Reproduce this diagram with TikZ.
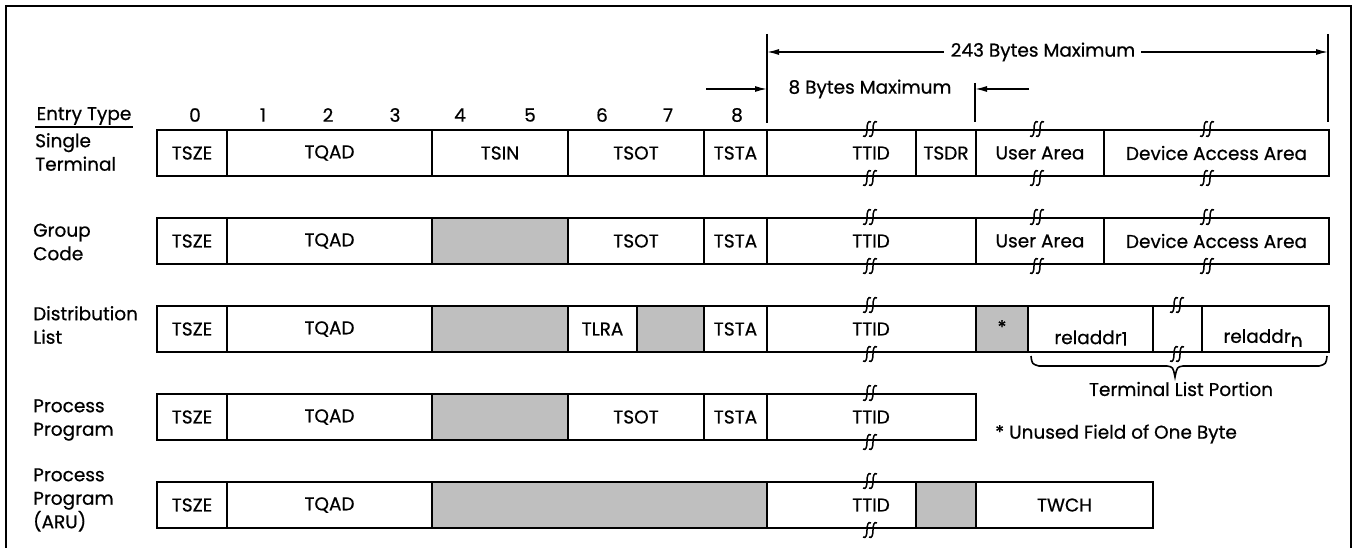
\documentclass[tikz,border=0pt]{standalone}
\usepackage{fontspec}
\setmainfont{Poppins}[FakeBold=0.6]
\usetikzlibrary{arrows.meta}
\newcommand\fs{\fontsize{18.5}{23.5}\selectfont}
\newcommand\fld[6][]{%
  \pgfmathsetmacro\myW{#4-#3}%
  \pgfmathsetmacro\myX{(#3+#4)/2}%
  \pgfmathsetmacro\myY{#5+23}%
  \node[fld,#1,minimum width=\myW pt] (#2) at (\myX,\myY) {#6};}
\begin{document}
\begin{tikzpicture}[x=1pt,y=-1pt,
  fld/.style={draw, line width=1.8pt, minimum height=46pt, inner sep=0pt, font=\fs},
  shd/.style={fill=black!25},
  lbl/.style={font=\fs, inner sep=0pt},
  dim/.style={line width=1.4pt},
  arr/.style={dim, -{Latex[length=12pt,width=6pt]}},
  brk/.pic={\foreach \d in {-3,3}{\draw[line width=1.5pt,shift={(\d,0)}] (4,-7) .. controls (1,-9) and (0,-4.5) .. (0,0) .. controls (0,4.5) and (-1,9) .. (-4,7);}}
]
\useasboundingbox (0,0) rectangle (1357,548);
% frame
\draw[line width=2.6pt] (6,560) -- (6,6) -- (1351,6) -- (1351,560);

% header
\node[lbl] (et) at (84,116) {Entry Type};
\coordinate (ul1) at (35,127); \coordinate (ul2) at (133,127);
\draw[line width=1.3pt] (ul1) -- (ul2);
\foreach \n/\x in {0/195,1/263,2/328,3/395,4/460,5/530,6/602,7/668,8/737}
  \node[lbl] (num\n) at (\x,115) {\n};

% dimension lines
\coordinate (v1t) at (767,34); \coordinate (v1b) at (767,123);
\coordinate (v2t) at (1328,34); \coordinate (v2b) at (1328,122);
\coordinate (v3t) at (975,83); \coordinate (v3b) at (975,122);
\draw[dim] (v1t) -- (v1b);
\draw[dim] (v2t) -- (v2b);
\draw[dim] (v3t) -- (v3b);
\node[lbl] (t243) at (1043,52) {243 Bytes Maximum};
\coordinate (a243l) at (767,52); \coordinate (a243r) at (1328,52);
\draw[arr] ([xshift=-7pt]t243.west) -- (a243l);
\draw[arr] ([xshift=6pt]t243.east) -- (a243r);
\node[lbl] (t8) at (870,89) {8 Bytes Maximum};
\coordinate (a8s) at (706,89); \coordinate (a8e) at (767,89);
\coordinate (b8s) at (1029,89); \coordinate (b8e) at (975,89);
\draw[arr] (a8s) -- (a8e);
\draw[arr] (b8s) -- (b8e);

% row labels
\node[lbl, anchor=west, align=left] (L1) at (35,152) {Single\\Terminal};
\node[lbl, anchor=west, align=left] (L2) at (33,242) {Group\\Code};
\node[lbl, anchor=west, align=left] (L3) at (33,325) {Distribution\\List};
\node[lbl, anchor=west, align=left] (L4) at (33,420) {Process\\Program};
\node[lbl, anchor=west, align=left] (L5) at (33,500) {Process\\Program\\(ARU)};

% row 1
\fld{a1}{157}{227}{130}{TSZE}
\fld{b1}{227}{432}{130}{TQAD}
\fld{c1}{432}{568}{130}{TSIN}
\fld{d1}{568}{704}{130}{TSOT}
\fld{e1}{704}{767}{130}{TSTA}
\fld{f1}{767}{916}{130}{}
\fld{g1}{916}{976}{130}{TSDR}
\fld{h1}{976}{1104}{130}{User Area}
\fld{i1}{1104}{1329}{130}{Device Access Area}
\node[lbl] (tt1) at (871,153) {TTID};
% row 2
\fld{a2}{157}{227}{218}{TSZE}
\fld{b2}{227}{432}{218}{TQAD}
\fld[shd]{c2}{432}{568}{218}{}
\fld{d2}{568}{704}{218}{TSOT}
\fld{e2}{704}{767}{218}{TSTA}
\fld{f2}{767}{976}{218}{}
\fld{h2}{976}{1104}{218}{User Area}
\fld{i2}{1104}{1329}{218}{Device Access Area}
\node[lbl] (tt2) at (871,241) {TTID};
% row 3
\fld{a3}{157}{227}{306}{TSZE}
\fld{b3}{227}{432}{306}{TQAD}
\fld[shd]{c3}{432}{568}{306}{}
\fld{d3}{568}{637}{306}{TLRA}
\fld[shd]{d3b}{637}{704}{306}{}
\fld{e3}{704}{767}{306}{TSTA}
\fld{f3}{767}{976}{306}{}
\fld[shd]{g3}{976}{1028}{306}{}
\fld{h3}{1028}{1153}{306}{}
\fld{j3}{1153}{1202}{306}{}
\fld{i3}{1202}{1329}{306}{}
\node[lbl] (tt3) at (871,329) {TTID};
\node[lbl] (st3) at (1002,327) {*};
\node[lbl] (r1) at (1091,338) {reladdr\raisebox{-1.5pt}{1}};
\node[lbl] (rn) at (1263,338) {reladdr\raisebox{-4pt}{n}};
% row 4
\fld{a4}{157}{227}{394}{TSZE}
\fld{b4}{227}{432}{394}{TQAD}
\fld[shd]{c4}{432}{568}{394}{}
\fld{d4}{568}{704}{394}{TSOT}
\fld{e4}{704}{767}{394}{TSTA}
\fld{f4}{767}{976}{394}{}
\node[lbl] (tt4) at (871,417) {TTID};
% row 5
\fld{a5}{157}{227}{482}{TSZE}
\fld{b5}{227}{432}{482}{TQAD}
\fld[shd]{c5}{432}{767}{482}{}
\fld{f5}{767}{916}{482}{}
\fld[shd]{g5}{916}{976}{482}{}
\fld{h5}{976}{1153}{482}{TWCH}
\node[lbl] (tt5) at (871,505) {TTID};

% break marks
\foreach \x/\y in {870/129,870/178,1037/129,1037/178,1207/129,1207/178,
                   870/217,870/266,1037/217,1037/266,1207/217,1207/266,
                   870/305,870/354,1177/305,1177/354,
                   870/393,870/442,870/481,870/530}
  \pic at (\x,\y) {brk};

% brace and notes
\draw[line width=1.6pt] (1031,356) .. controls (1032,364) .. (1039,366) -- (1167,366)
  .. controls (1173,367) .. (1175,377) .. controls (1177,367) .. (1183,366) -- (1319,366)
  .. controls (1326,364) .. (1327,356);
\node[lbl] (tlp) at (1181,389) {Terminal List Portion};
\node[lbl, anchor=west] (note) at (995,434) {* Unused Field of One Byte};
\end{tikzpicture}
\end{document}
